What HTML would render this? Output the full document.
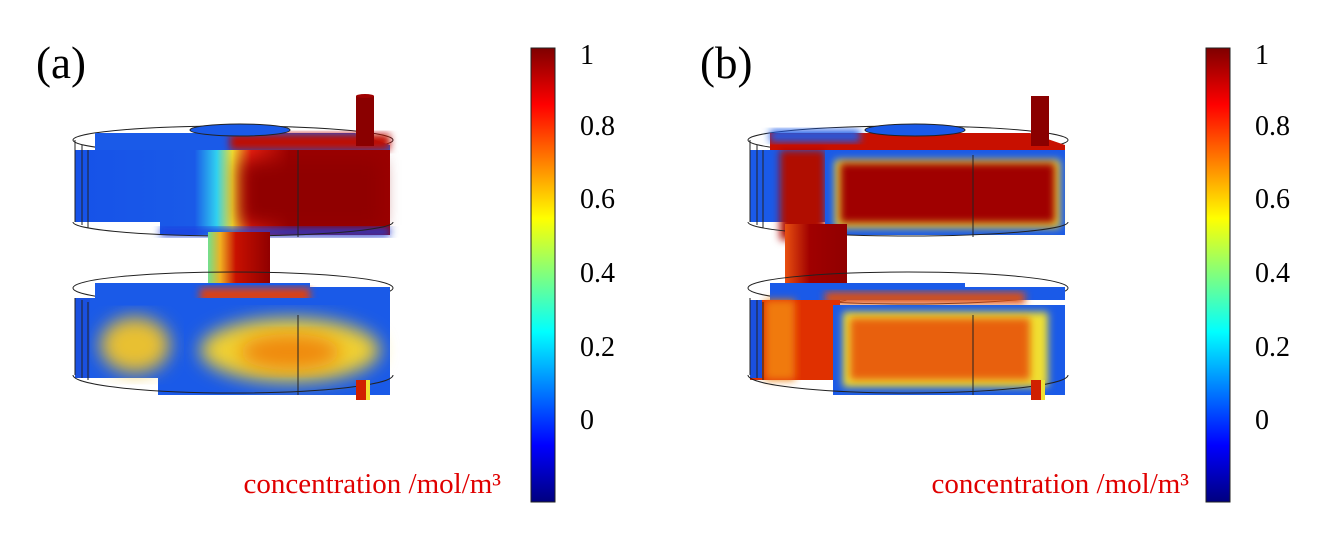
<!DOCTYPE html>
<html><head><style>
html,body{margin:0;padding:0;background:#fff;}
svg{display:block;}
text{font-family:"Liberation Serif",serif;}
</style></head><body>
<svg width="1331" height="534" viewBox="0 0 1331 534" xmlns="http://www.w3.org/2000/svg">
<defs>
<filter id="bl" x="-20%" y="-20%" width="140%" height="140%"><feGaussianBlur stdDeviation="9"/></filter>
<filter id="bl2" x="-20%" y="-20%" width="140%" height="140%"><feGaussianBlur stdDeviation="4"/></filter>
<linearGradient id="cb" x1="0" y1="1" x2="0" y2="0">
<stop offset="0" stop-color="#00007f"/><stop offset="0.125" stop-color="#0000ff"/>
<stop offset="0.375" stop-color="#00ffff"/><stop offset="0.5" stop-color="#7fff7f"/>
<stop offset="0.625" stop-color="#ffff00"/><stop offset="0.875" stop-color="#ff0000"/>
<stop offset="1" stop-color="#7f0000"/></linearGradient>
<linearGradient id="topA" x1="0" y1="0" x2="1" y2="0">
<stop offset="0" stop-color="#1652e8"/><stop offset="0.38" stop-color="#1a5ae8"/>
<stop offset="0.45" stop-color="#30d0f0"/><stop offset="0.5" stop-color="#f0e030"/>
<stop offset="0.56" stop-color="#e82010"/><stop offset="0.68" stop-color="#9a0000"/>
<stop offset="1" stop-color="#9a0000"/></linearGradient>
<linearGradient id="shaft" x1="0" y1="0" x2="1" y2="0">
<stop offset="0" stop-color="#70e090"/><stop offset="0.2" stop-color="#f0b020"/>
<stop offset="0.45" stop-color="#c81000"/><stop offset="1" stop-color="#900000"/></linearGradient>
<linearGradient id="shaftB" x1="0" y1="0" x2="1" y2="0">
<stop offset="0" stop-color="#e85010"/><stop offset="0.4" stop-color="#a00000"/><stop offset="1" stop-color="#900000"/></linearGradient>
</defs>

<!-- ===== Panel A ===== -->
<g>
<ellipse cx="233" cy="140" rx="160" ry="14" fill="none" stroke="#222" stroke-width="1"/>
<path d="M95,133 L355,133 L390,145 L390,150 L95,150 Z" fill="#1a5ae8"/>
<rect x="230" y="134" width="160" height="16" fill="#c01000" filter="url(#bl2)"/>
<rect x="75" y="150" width="315" height="85" fill="url(#topA)"/>
<rect x="75" y="222" width="85" height="14" fill="#fff"/>
<rect x="240" y="160" width="140" height="65" fill="#900000" filter="url(#bl)"/>
<rect x="160" y="228" width="230" height="8" fill="#1a40e0" filter="url(#bl2)"/>
<ellipse cx="240" cy="130" rx="50" ry="6" fill="#1a5ae8" stroke="#222" stroke-width="1"/>
<line x1="298" y1="150" x2="298" y2="237" stroke="#222"/>
<path d="M75,140 L75,222 M82,145 L82,225 M88,150 L88,228" stroke="#222" fill="none"/>
<path d="M73,222 A160 14 0 0 0 393,222" fill="none" stroke="#222"/>
<rect x="356" y="96" width="18" height="50" fill="#8a0000"/>
<ellipse cx="365" cy="96" rx="9" ry="2" fill="#a00000"/>
<rect x="208" y="232" width="62" height="65" fill="url(#shaft)"/>
<ellipse cx="239" cy="296" rx="31" ry="4" fill="none" stroke="#222"/>
<ellipse cx="233" cy="288" rx="160" ry="16" fill="none" stroke="#222"/>
<path d="M95,283 L310,283 L310,287 L390,287 L390,300 L95,300 Z" fill="#1a5ae8"/>
<rect x="200" y="288" width="110" height="14" fill="#e04010" filter="url(#bl2)"/>
<rect x="75" y="298" width="315" height="80" fill="#1a5ae8"/>
<rect x="158" y="310" width="232" height="85" fill="#1a5ae8"/>
<ellipse cx="135" cy="345" rx="35" ry="28" fill="#e8c030" filter="url(#bl)"/>
<ellipse cx="290" cy="350" rx="90" ry="32" fill="#f0d030" filter="url(#bl)"/>
<ellipse cx="290" cy="352" rx="50" ry="18" fill="#f08a10" filter="url(#bl)"/>
<rect x="75" y="298" width="15" height="80" fill="#1a50e0"/>
<line x1="298" y1="315" x2="298" y2="395" stroke="#222"/>
<path d="M75,298 L75,375 M82,300 L82,378 M88,302 L88,380" stroke="#222" fill="none"/>
<path d="M73,375 A160 18 0 0 0 393,375" fill="none" stroke="#222"/>
<rect x="356" y="380" width="14" height="20" fill="#d02000"/>
<rect x="366" y="380" width="4" height="20" fill="#f0e030"/>
</g>

<!-- ===== Panel B ===== -->
<g transform="translate(675,0)">
<ellipse cx="233" cy="140" rx="160" ry="14" fill="none" stroke="#222"/>
<path d="M95,133 L355,133 L390,145 L390,150 L95,150 Z" fill="#c81000"/>
<rect x="95" y="130" width="90" height="12" fill="#1a5ae8" filter="url(#bl2)"/>
<rect x="75" y="150" width="315" height="85" fill="#1a5ae8"/>
<rect x="75" y="222" width="80" height="14" fill="#fff"/>
<rect x="105" y="150" width="45" height="90" fill="#b00800" filter="url(#bl2)"/>
<rect x="150" y="150" width="240" height="85" fill="#1a5ae8"/>
<rect x="160" y="160" width="225" height="68" fill="#f0e030" filter="url(#bl2)"/>
<rect x="165" y="163" width="215" height="60" fill="#a00000" filter="url(#bl2)"/>
<ellipse cx="240" cy="130" rx="50" ry="6" fill="#1a5ae8" stroke="#222"/>
<line x1="298" y1="155" x2="298" y2="237" stroke="#222"/>
<path d="M75,140 L75,222 M82,145 L82,225 M88,150 L88,228" stroke="#222" fill="none"/>
<path d="M73,222 A160 14 0 0 0 393,222" fill="none" stroke="#222"/>
<rect x="356" y="96" width="18" height="50" fill="#8a0000"/>
<rect x="110" y="224" width="62" height="76" fill="url(#shaftB)"/>
<ellipse cx="141" cy="299" rx="31" ry="4" fill="none" stroke="#222"/>
<ellipse cx="233" cy="288" rx="160" ry="16" fill="none" stroke="#222"/>
<path d="M95,283 L290,283 L290,287 L390,287 L390,300 L95,300 Z" fill="#1a5ae8"/>
<rect x="150" y="292" width="200" height="12" fill="#e05010" filter="url(#bl2)"/>
<rect x="75" y="300" width="90" height="80" fill="#e03000"/>
<rect x="90" y="300" width="30" height="80" fill="#f07a10" filter="url(#bl2)"/>
<rect x="158" y="305" width="232" height="90" fill="#1a5ae8"/>
<rect x="168" y="312" width="205" height="75" fill="#f0e030" filter="url(#bl2)"/>
<rect x="175" y="318" width="180" height="62" fill="#e86010" filter="url(#bl2)"/>
<rect x="75" y="300" width="12" height="78" fill="#1a50e0"/>
<line x1="298" y1="315" x2="298" y2="395" stroke="#222"/>
<path d="M75,298 L75,375 M82,300 L82,378 M88,302 L88,380" stroke="#222" fill="none"/>
<path d="M73,375 A160 18 0 0 0 393,375" fill="none" stroke="#222"/>
<rect x="356" y="380" width="14" height="20" fill="#d02000"/>
<rect x="366" y="380" width="4" height="20" fill="#f0e030"/>
</g>

<text x="36" y="78" font-size="45">(a)</text>
<text x="700" y="78" font-size="45">(b)</text>

<rect x="531" y="48" width="24" height="454" fill="url(#cb)" stroke="#222" stroke-width="1"/>
<rect x="1206" y="48" width="24" height="454" fill="url(#cb)" stroke="#222" stroke-width="1"/>
<g font-size="28" fill="#000">
<text x="580" y="64">1</text><text x="580" y="135">0.8</text><text x="580" y="208">0.6</text>
<text x="580" y="282">0.4</text><text x="580" y="356">0.2</text><text x="580" y="429">0</text>
<text x="1255" y="64">1</text><text x="1255" y="135">0.8</text><text x="1255" y="208">0.6</text>
<text x="1255" y="282">0.4</text><text x="1255" y="356">0.2</text><text x="1255" y="429">0</text>
</g>
<text x="501" y="493" font-size="29" fill="#e00000" text-anchor="end">concentration /mol/m³</text>
<text x="1189" y="493" font-size="29" fill="#e00000" text-anchor="end">concentration /mol/m³</text>
</svg>
</body></html>
